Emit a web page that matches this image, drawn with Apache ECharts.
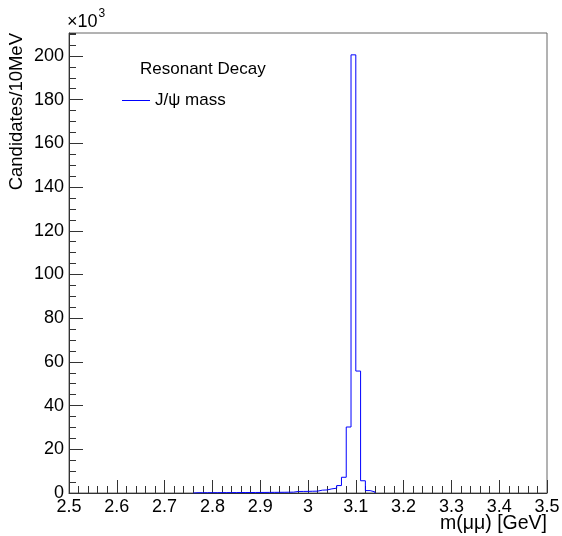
<!DOCTYPE html>
<html>
<head>
<meta charset="utf-8">
<script src="https://cdn.jsdelivr.net/npm/echarts@6/dist/echarts.min.js"></script>
<style>
html,body{margin:0;padding:0;background:#fff;}
#chart{width:562px;height:536px;}
</style>
</head>
<body>
<div id="chart"></div>
<script>
// Histogram: 10 MeV bins, lower edges in GeV, contents in thousands of candidates
var binLowEdges = [2.76,2.77,2.78,2.79,2.80,2.81,2.82,2.83,2.84,2.85,2.86,2.87,2.88,2.89,2.90,2.91,2.92,2.93,2.94,2.95,2.96,
                   2.97,2.98,2.99,3.00,3.01,3.02,3.03,3.04,3.05,3.06,3.07,3.08,3.09,3.10,3.11,3.12,3.13];
var binContents = [0.12,0.12,0.14,0.15,0.15,0.17,0.18,0.18,0.2,0.21,0.22,0.22,0.24,0.25,0.26,0.28,0.3,0.31,0.33,0.36,0.4,
                   0.7,0.72,0.75,0.8,0.85,1.3,1.4,1.9,2.2,3.4,7.2,30.2,200.5,55.8,5.6,1.1,0.5];
var binWidth = 0.01;
var xTickLabels = ['2.5','2.6','2.7','2.8','2.9','3','3.1','3.2','3.3','3.4','3.5'];
var yTickLabels = ['0','20','40','60','80','100','120','140','160','180','200'];
var seriesName = 'J/\u03c8 mass';
var legendHeader = 'Resonant Decay';
var xTitle = 'm(\u03bc\u03bc) [GeV]';
var yTitle = 'Candidates/10MeV';

var pts = [[binLowEdges[0], 0]];
for (var i = 0; i < binLowEdges.length; i++) {
  var lo = +binLowEdges[i].toFixed(2), hi = +(binLowEdges[i] + binWidth).toFixed(2);
  pts.push([lo, binContents[i]]);
  pts.push([hi, binContents[i]]);
}
pts.push([+(binLowEdges[binLowEdges.length-1] + binWidth).toFixed(2), 0]);

var FONT = 'Liberation Sans';
var axisCol = '#333';
var chart = echarts.init(document.getElementById('chart'));
chart.setOption({
  animation: false,
  backgroundColor: '#fff',
  grid: {left: 69, right: 15, top: 33, bottom: 43, outerBoundsMode: 'none', containLabel: false,
         show: true, borderColor: '#666', borderWidth: 1, backgroundColor: 'transparent'},
  xAxis: {
    type: 'value', min: 2.5, max: 3.5, interval: 0.1,
    axisLine: {show: true, lineStyle: {color: axisCol, width: 1}},
    axisTick: {show: true, inside: true, length: 13, lineStyle: {color: axisCol}},
    minorTick: {show: true, splitNumber: 5, length: 7, lineStyle: {color: axisCol}},
    splitLine: {show: false},
    axisLabel: {fontFamily: FONT, fontSize: 18, color: '#000', margin: 5,
      formatter: function (v) { var idx = Math.round((v - 2.5) / 0.1); return xTickLabels[idx] !== undefined ? xTickLabels[idx] : ''; }}
  },
  yAxis: [{
    type: 'value', min: 0, max: 210.5, interval: 20, position: 'left',
    axisLine: {show: true, lineStyle: {color: axisCol, width: 1}},
    axisTick: {show: true, inside: true, length: 14, lineStyle: {color: axisCol}},
    splitLine: {show: false},
    axisLabel: {fontFamily: FONT, fontSize: 18, color: '#000', margin: 5, showMaxLabel: false,
      formatter: function (v) { var idx = Math.round(v / 20); return (Math.abs(v - idx*20) < 1e-6 && yTickLabels[idx] !== undefined) ? yTickLabels[idx] : ''; }}
  }, {
    type: 'value', min: 0, max: 210.5, interval: 5, position: 'left',
    axisLine: {show: false},
    axisTick: {show: true, inside: true, length: 7, lineStyle: {color: axisCol}},
    splitLine: {show: false},
    axisLabel: {show: false}
  }],
  legend: {
    show: true, left: 117, top: 87, orient: 'vertical',
    itemWidth: 28, itemHeight: 1, itemGap: 4, icon: 'rect',
    textStyle: {fontFamily: FONT, fontSize: 17, color: '#000', padding: [0, 0, 0, 0]},
    data: [{name: seriesName, icon: 'rect', itemStyle: {color: '#0000ff'}}]
  },
  series: [{
    name: seriesName, type: 'line', yAxisIndex: 0,
    data: pts, symbol: 'none', showSymbol: false,
    lineStyle: {color: '#0000ff', width: 1},
    itemStyle: {color: '#0000ff'},
    silent: true
  }],
  graphic: [
    {type: 'text', left: 140, top: 61, style: {text: legendHeader, fontFamily: FONT, fontSize: 17, fill: '#000'}},
    {type: 'text', x: 547, y: 514,
      style: {text: xTitle, fontFamily: FONT, fontSize: 19.5, fill: '#000', textAlign: 'right', textVerticalAlign: 'top'}},
    {type: 'text', x: 17, y: 33, rotation: Math.PI / 2,
      style: {text: yTitle, fontFamily: FONT, fontSize: 18.5, fill: '#000', textAlign: 'right', textVerticalAlign: 'middle'}},
    {type: 'text', left: 67, top: 8,
      style: {text: '{a|\u00d710}{b|3}', fontFamily: FONT, fill: '#000',
        rich: {a: {fontFamily: FONT, fontSize: 18, fill: '#000', padding: [5, 0, 0, 0]}, b: {fontFamily: FONT, fontSize: 12, fill: '#000', verticalAlign: 'top', padding: [0, 0, 8, 1]}}}}
  ]
});
</script>
</body>
</html>
